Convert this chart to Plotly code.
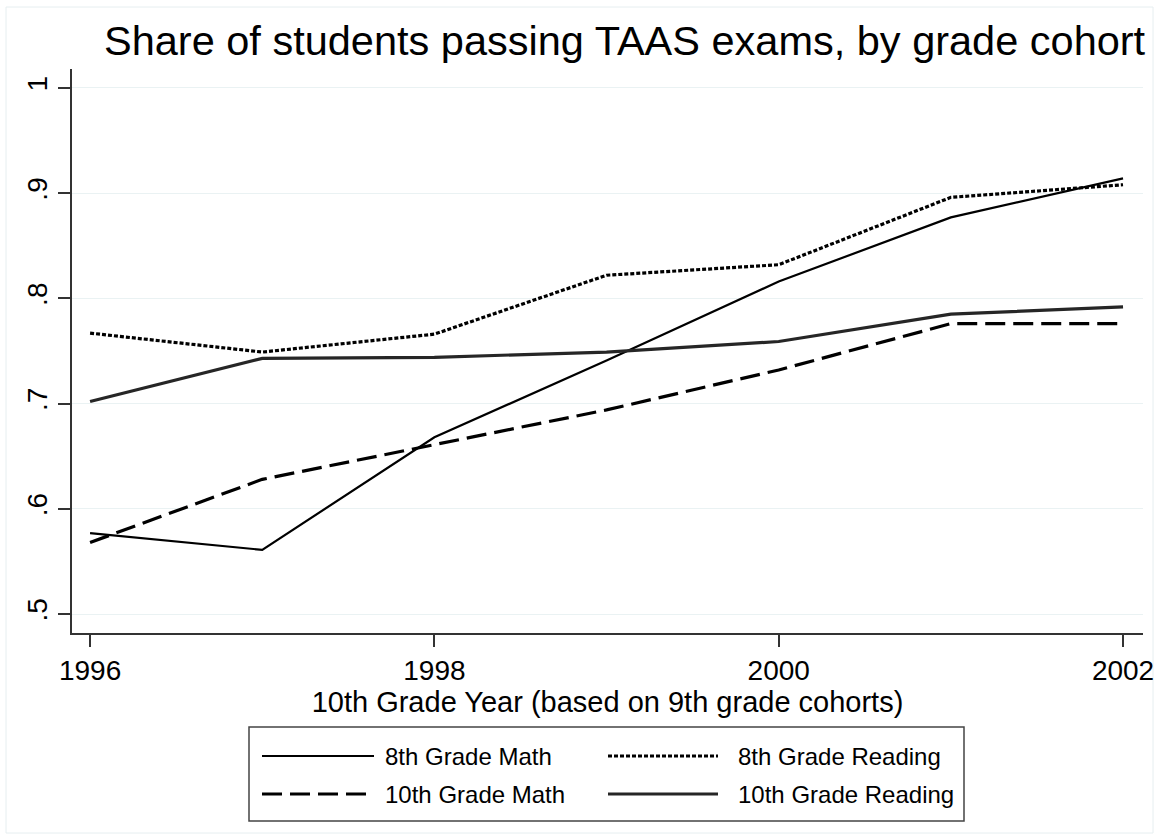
import plotly.graph_objects as go

# === DATA ===
years = [1996, 1997, 1998, 1999, 2000, 2001, 2002]
math_8th = [0.577, 0.561, 0.668, 0.741, 0.816, 0.877, 0.914]
reading_8th = [0.767, 0.749, 0.766, 0.822, 0.832, 0.896, 0.908]
math_10th = [0.568, 0.628, 0.661, 0.694, 0.732, 0.776, 0.776]
reading_10th = [0.702, 0.743, 0.744, 0.749, 0.759, 0.785, 0.792]

y_ticks = [0.5, 0.6, 0.7, 0.8, 0.9, 1.0]
y_ticktext = [".5", ".6", ".7", ".8", ".9", "1"]
x_ticks = [1996, 1998, 2000, 2002]

FONT = "Liberation Sans, Arial, sans-serif"
W, H = 1162, 840
L, R, T, B = 72, 19, 69, 207
PW, PH = W - L - R, H - T - B


def px(x):
    return (x - L) / PW


def py(y):
    return (H - B - y) / PH


series = [
    ("8th Grade Math", math_8th, dict(color="black", width=2.2, dash="solid")),
    ("8th Grade Reading", reading_8th, dict(color="black", width=3.2, dash="4px,2px")),
    ("10th Grade Math", math_10th, dict(color="black", width=3.2, dash="20px,8px")),
    ("10th Grade Reading", reading_10th, dict(color="#262626", width=3.2, dash="solid")),
]

fig = go.Figure()
for name, vals, line in series:
    fig.add_trace(go.Scatter(x=years, y=vals, mode="lines", name=name,
                             line=line, showlegend=False))

# --- legend drawn by hand (Stata style, 2 columns) ---
shapes = [
    dict(type="rect", xref="paper", yref="paper",
         x0=px(6), x1=px(1153), y0=py(833), y1=py(7),
         line=dict(color="#e6eef0", width=1), layer="below"),
    dict(type="rect", xref="paper", yref="paper",
         x0=px(249), x1=px(964), y0=py(821), y1=py(727),
         line=dict(color="#444444", width=1.5)),
]
annotations = []
cols = [(262, 374, 383), (608, 718, 736)]
rows = [756, 794]
slots = [(0, 0), (0, 1), (1, 0), (1, 1)]
for (name, _, line), (r, c) in zip(series, slots):
    x0, x1, xt = cols[c]
    yy = rows[r]
    shapes.append(dict(type="line", xref="paper", yref="paper",
                       x0=px(x0), x1=px(x1), y0=py(yy), y1=py(yy), line=line))
    annotations.append(dict(xref="paper", yref="paper", x=px(xt), y=py(yy),
                            text=name, showarrow=False, xanchor="left",
                            yanchor="middle", font=dict(size=24, color="black")))

fig.update_layout(
    width=W, height=H, autosize=False,
    margin=dict(l=L, r=R, t=T, b=B),
    paper_bgcolor="white", plot_bgcolor="white",
    font=dict(family=FONT, color="black"),
    title=dict(text="Share of students passing TAAS exams, by grade cohort",
               x=104 / W, xanchor="left", y=1 - 26 / H, yanchor="top",
               font=dict(size=41.5, color="black")),
    shapes=shapes,
    annotations=annotations,
)
fig.update_xaxes(
    range=[1995.895, 2002.116], tickvals=x_ticks,
    showgrid=False, zeroline=False, automargin=False,
    showline=True, linecolor="#333333", linewidth=1.5,
    ticks="outside", ticklen=12, tickcolor="#333333", tickwidth=1.5,
    tickfont=dict(size=28),
    title=dict(text="10th Grade Year (based on 9th grade cohorts)",
               font=dict(size=29), standoff=0),
)
fig.update_yaxes(
    range=[0.482, 1.018], tickvals=y_ticks, ticktext=y_ticktext,
    tickangle=-90, automargin=False,
    showgrid=True, gridcolor="#eaf2f3", gridwidth=1, zeroline=False,
    showline=True, linecolor="#333333", linewidth=1.5,
    ticks="outside", ticklen=12, tickcolor="#333333", tickwidth=1.5,
    tickfont=dict(size=28),
)

# page has a default 8px body margin; drop it so the figure sits at the origin
fig.write_html("out.html", config={"displayModeBar": False},
               post_script="document.body.style.margin='0';")
